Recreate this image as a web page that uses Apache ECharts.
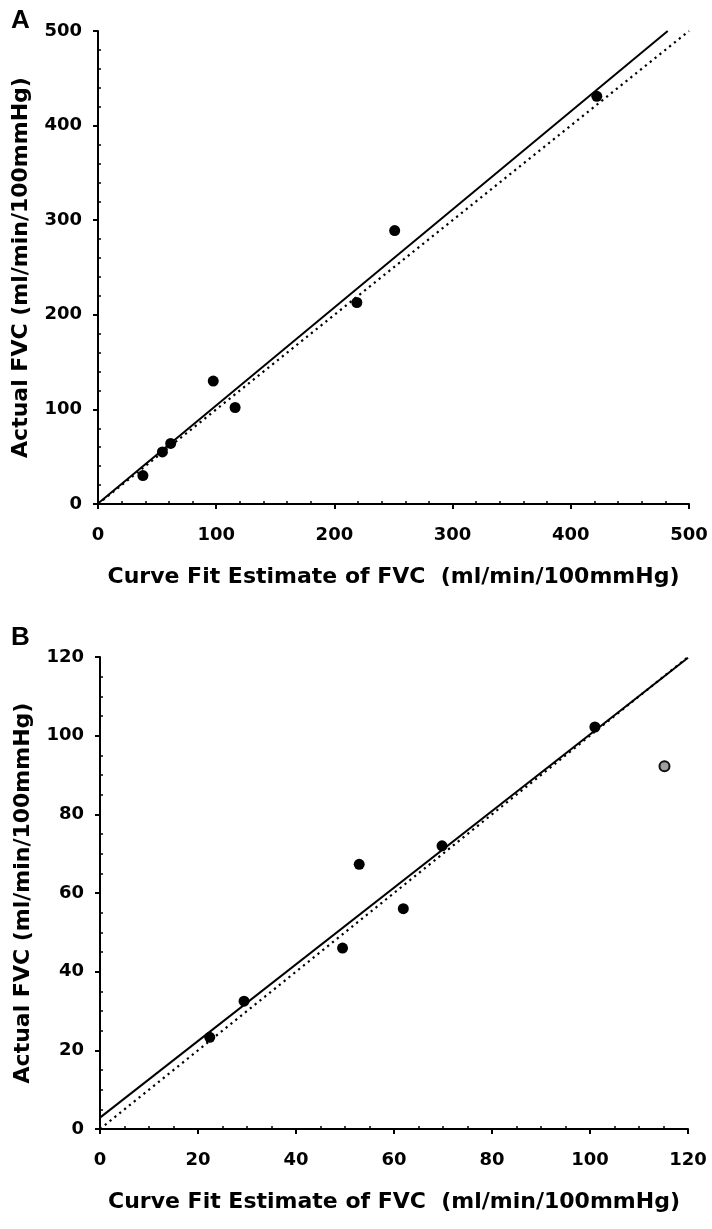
<!DOCTYPE html>
<html>
<head>
<meta charset="utf-8">
<script src="https://cdn.jsdelivr.net/npm/echarts@6/dist/echarts.min.js"></script>
<style>
html,body{margin:0;padding:0;background:#fff;}
#chart{width:712px;height:1229px;}
</style>
</head>
<body>
<div id="chart"></div>
<script>
// ---------- Data ----------
const panelLabels = ['A', 'B'];
const xAxisTitle = 'Curve Fit Estimate of FVC  (ml/min/100mmHg)';
const yAxisTitle = 'Actual FVC (ml/min/100mmHg)';

// Panel A
const aFitEstimate = [38, 54.5, 61.5, 97.5, 116, 219, 251, 422];
const aActual      = [30, 55, 64, 130, 102, 213, 289, 431];
const aRegressionX = [0, 482];
const aRegressionY = [0.5, 500];
const aIdentityX   = [0, 500];
const aIdentityY   = [0, 500];
const aTicks = { min: 0, max: 500, step: 100, minorSplit: 5 };

// Panel B
const bFitEstimate = [22.4, 29.4, 49.5, 52.9, 61.9, 69.8, 101];
const bActual      = [23.3, 32.5, 46, 67.3, 56, 72, 102.2];
const bOutlierX    = [115.2];
const bOutlierY    = [92.2];
const bRegressionX = [0, 120];
const bRegressionY = [2.9, 119.8];
const bIdentityX   = [0, 120];
const bIdentityY   = [0, 120];
const bTicks = { min: 0, max: 120, step: 20, minorSplit: 4 };

// ---------- Helpers ----------
const zip = (xs, ys) => xs.map((x, i) => [x, ys[i]]);
const FONT = 'DejaVu Sans';

function mainAxis(grid, t, dim) {
  const isX = dim === 'x';
  return {
    gridIndex: grid, type: 'value', min: t.min, max: t.max, interval: t.step,
    position: isX ? 'bottom' : 'left',
    name: isX ? xAxisTitle : yAxisTitle,
    nameLocation: 'middle',
    nameGap: isX ? 62 : 66,
    nameTextStyle: { fontFamily: FONT, fontWeight: 'bold', fontSize: 22, color: '#000' },
    axisLine: { show: true, lineStyle: { color: '#000', width: 2 } },
    axisTick: { show: true, inside: false, length: 5, lineStyle: { color: '#000', width: 2 } },
    minorTick: { show: false },
    axisLabel: { show: true, margin: isX ? 22 : 16, fontFamily: FONT, fontWeight: 'bold', fontSize: 18, color: '#000' },
    splitLine: { show: false }
  };
}
function minorAxis(grid, t, dim) {
  const isX = dim === 'x';
  return {
    gridIndex: grid, type: 'value', min: t.min, max: t.max, interval: t.step,
    position: isX ? 'bottom' : 'left',
    axisLine: { show: false },
    axisTick: { show: false, inside: true },
    minorTick: { show: true, splitNumber: t.minorSplit, length: 3, lineStyle: { color: '#000', width: 1.5 } },
    axisLabel: { show: false },
    splitLine: { show: false }
  };
}

const solid = { color: '#000', width: 2, type: 'solid' };
const dotted = { color: '#000', width: 2.2, type: [2.2, 4] };
const dot = { color: '#000', opacity: 1 };

const option = {
  animation: false,
  backgroundColor: '#fff',
  title: [
    { text: panelLabels[0], left: 6, top: 3, textStyle: { fontFamily: 'Liberation Sans', fontWeight: 'bold', fontSize: 26, color: '#000' } },
    { text: panelLabels[1], left: 6, top: 620, textStyle: { fontFamily: 'Liberation Sans', fontWeight: 'bold', fontSize: 26, color: '#000' } }
  ],
  grid: [
    { left: 98, top: 31, width: 591, height: 473, containLabel: false },
    { left: 100, top: 657, width: 588, height: 472, containLabel: false }
  ],
  xAxis: [
    mainAxis(0, aTicks, 'x'), minorAxis(0, aTicks, 'x'),
    mainAxis(1, bTicks, 'x'), minorAxis(1, bTicks, 'x')
  ],
  yAxis: [
    mainAxis(0, aTicks, 'y'), minorAxis(0, aTicks, 'y'),
    mainAxis(1, bTicks, 'y'), minorAxis(1, bTicks, 'y')
  ],
  series: [
    { type: 'line', xAxisIndex: 0, yAxisIndex: 0, data: zip(aIdentityX, aIdentityY), showSymbol: false, lineStyle: dotted, silent: true, z: 1 },
    { type: 'line', xAxisIndex: 0, yAxisIndex: 0, data: zip(aRegressionX, aRegressionY), showSymbol: false, lineStyle: solid, silent: true, z: 2 },
    { type: 'scatter', xAxisIndex: 0, yAxisIndex: 0, data: zip(aFitEstimate, aActual), symbol: 'circle', symbolSize: 11, itemStyle: dot, z: 3 },

    { type: 'line', xAxisIndex: 2, yAxisIndex: 2, data: zip(bIdentityX, bIdentityY), showSymbol: false, lineStyle: dotted, silent: true, z: 1 },
    { type: 'line', xAxisIndex: 2, yAxisIndex: 2, data: zip(bRegressionX, bRegressionY), showSymbol: false, lineStyle: solid, silent: true, z: 2 },
    { type: 'scatter', xAxisIndex: 2, yAxisIndex: 2, data: zip(bFitEstimate, bActual), symbol: 'circle', symbolSize: 11, itemStyle: dot, z: 3 },
    { type: 'scatter', xAxisIndex: 2, yAxisIndex: 2, data: zip(bOutlierX, bOutlierY), symbol: 'circle', symbolSize: 10, itemStyle: { color: '#a0a0a0', opacity: 1, borderColor: '#111', borderWidth: 2 }, z: 3 }
  ]
};

const chart = echarts.init(document.getElementById('chart'), null, { renderer: 'canvas' });
chart.setOption(option);
</script>
</body>
</html>
